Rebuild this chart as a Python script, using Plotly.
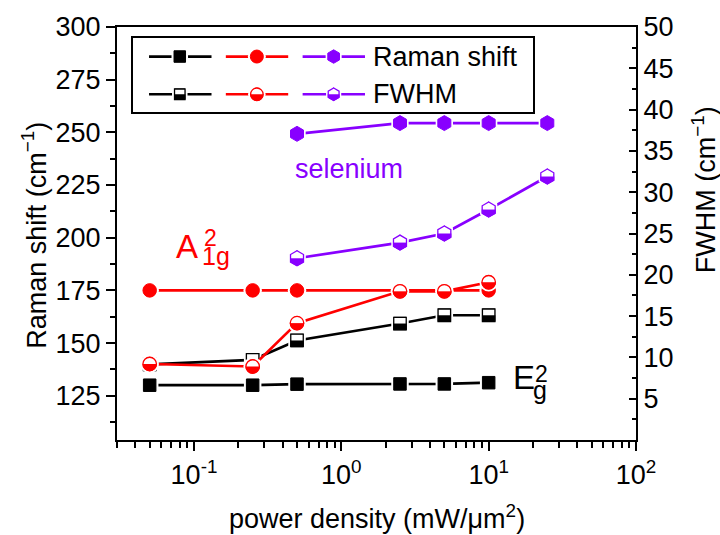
import math
import plotly.graph_objects as go

# ---------------- data ----------------
power_main = [0.05, 0.25, 0.5, 2.5, 5, 10]
power_se = [0.5, 2.5, 5, 10, 25]
raman_e2g = [130.0, 130.0, 130.5, 130.6, 130.6, 131.2]
raman_a1g = [175.0, 175.0, 175.0, 175.0, 175.0, 175.0]
raman_se = [249.3, 254.4, 254.4, 254.4, 254.4]
fwhm_e2g = [9.15, 9.7, 12.05, 14.1, 15.1, 15.1]
fwhm_a1g = [9.2, 8.9, 14.15, 18.0, 18.0, 19.1]
fwhm_se = [22.0, 23.9, 25.0, 27.9, 31.9]

x_tick_vals = [0.1, 1, 10, 100]
x_tick_text = ["10<sup>-1</sup>", "10<sup>0</sup>", "10<sup>1</sup>", "10<sup>2</sup>"]
left_tick_vals = [125, 150, 175, 200, 225, 250, 275, 300]
left_minor_vals = [112.5, 137.5, 162.5, 187.5, 212.5, 237.5, 262.5, 287.5]
right_tick_vals = [5, 10, 15, 20, 25, 30, 35, 40, 45, 50]
right_minor_vals = [2.5, 7.5, 12.5, 17.5, 22.5, 27.5, 32.5, 37.5, 42.5, 47.5]
x_minor_vals = [m * 10 ** e for e in (-2, -1, 0, 1) for m in range(2, 10) if m * 10 ** e >= 0.03]

BLACK = "#000000"
RED = "#FF0000"
PURPLE = "#8800FF"
FONT = "Liberation Sans, Arial, sans-serif"
FS = 27

# ---------------- layout geometry (pixels) ----------------
W, H = 720, 535
PL, PR, PT, PB = 117.3, 635.7, 20.7, 440.0


def pxx(x):
    return (x - PL) / (PR - PL)


def pxy(y):
    return (PB - y) / (PB - PT)


fig = go.Figure()


def add_series(x, y, color, symbol, size, half, xaxis="x", yaxis="y",
               line_x=None, line_y=None, lw=2.7):
    lx = x if line_x is None else line_x
    ly = y if line_y is None else line_y
    common = dict(xaxis=xaxis, yaxis=yaxis, showlegend=False, hoverinfo="skip")
    fig.add_trace(go.Scatter(x=lx, y=ly, mode="lines",
                             line=dict(color=color, width=lw), **common))
    fig.add_trace(go.Scatter(x=x, y=y, mode="markers",
                             marker=dict(symbol=symbol, size=size + 5, color="white",
                                         line=dict(width=0)), **common))
    fig.add_trace(go.Scatter(x=x, y=y, mode="markers",
                             marker=dict(symbol=symbol, size=size, color=color,
                                         line=dict(color=color, width=1)), **common))
    if half:
        fig.add_trace(go.Scatter(x=x, y=y, mode="markers",
                                 marker=dict(symbol="line-ew", size=size * 0.8, angle=180,
                                             standoff=size / 4,
                                             line=dict(color="white", width=size / 2)),
                                 **common))
        fig.add_trace(go.Scatter(x=x, y=y, mode="markers",
                                 marker=dict(symbol=symbol, size=size,
                                             color="rgba(0,0,0,0)",
                                             line=dict(color=color, width=1.3)),
                                 **common))


# Raman shift (left axis)
add_series(power_main, raman_e2g, BLACK, "square", 12.5, False)
add_series(power_main, raman_a1g, RED, "circle", 13.5, False)
add_series(power_se, raman_se, PURPLE, "hexagon", 15, False)
# FWHM (right axis)
add_series(power_main, fwhm_e2g, BLACK, "square", 12.5, True, yaxis="y2")
add_series(power_main, fwhm_a1g, RED, "circle", 13.5, True, yaxis="y2")
add_series(power_se, fwhm_se, PURPLE, "hexagon", 15, True, yaxis="y2")

# ---------------- custom legend (hidden axes x2 / y3, pixel units) ----------------
LX0, LX1, LY0, LY1 = 133.3, 533.3, 31.7, 107.3
row_y = [50.7, 89.0]
samples = [(149.3, 180.0, 211.7, BLACK, "square", 11.5, 10.5),
           (226.0, 257.0, 288.3, RED, "circle", 13.0, 12.5),
           (302.7, 333.7, 365.0, PURPLE, "hexagon", 13.5, 12.5)]
for r, ry in enumerate(row_y):
    for (a, m, b, col, sym, s_full, s_half) in samples:
        add_series([m], [ry], col, sym, s_full if r == 0 else s_half, r == 1,
                   xaxis="x2", yaxis="y3", line_x=[a, b], line_y=[ry, ry])

legend_names = ["Raman shift", "FWHM"]
annotations = []
for name, ry in zip(legend_names, row_y):
    annotations.append(dict(x=372.0, y=ry, xref="x2", yref="y3", text=name,
                            showarrow=False, xanchor="left", yanchor="middle",
                            borderpad=0,
                            font=dict(size=FS, color="black", family=FONT)))


def label(text, x, y, size, color, xanchor="left", angle=0):
    annotations.append(dict(x=pxx(x), y=pxy(y), xref="paper", yref="paper", text=text,
                            showarrow=False, xanchor=xanchor, yanchor="middle",
                            textangle=angle, borderpad=0,
                            font=dict(size=size, color=color, family=FONT)))


label("selenium", 294, 165, FS, PURPLE)
label("A", 175, 243.6, 33, RED)
label("1g", 201, 253.4, 25, RED)
label("2", 203, 234.5, 23, RED)
label("E", 512, 376.5, 33, BLACK)
label("g", 532, 389.5, 25, BLACK)
label("2", 533.5, 372.5, 23, BLACK)
label("Raman shift (cm<sup>−1</sup>)", 35, 232, FS, BLACK, xanchor="center", angle=-90)
label("FWHM (cm<sup>−1</sup>)", 703, 186, FS, BLACK, xanchor="center", angle=-90)
label("power density (mW/μm<sup>2</sup>)", 377, 518, FS, BLACK, xanchor="center")

axis_common = dict(showgrid=False, zeroline=False, showline=True, linecolor="black",
                   linewidth=2, tickcolor="black", tickwidth=1.5,
                   tickfont=dict(size=FS, color="black", family=FONT))

fig.update_layout(
    width=W, height=H, autosize=False,
    margin=dict(l=PL, r=W - PR, t=PT, b=H - PB, pad=0),
    paper_bgcolor="white", plot_bgcolor="white",
    showlegend=False,
    font=dict(family=FONT, size=FS, color="black"),
    xaxis=dict(type="log", range=[math.log10(0.03), 2], tickmode="array",
               tickvals=x_tick_vals, ticktext=x_tick_text, ticks="outside", ticklen=9,
               mirror=True, ticklabelstandoff=1,
               minor=dict(tickmode="array", tickvals=x_minor_vals, ticks="outside",
                          ticklen=5.5, tickwidth=1.5, tickcolor="black", showgrid=False),
               **axis_common),
    yaxis=dict(range=[104, 300], tickmode="array", tickvals=left_tick_vals,
               ticks="outside", ticklen=9,
               minor=dict(tickmode="array", tickvals=left_minor_vals, ticks="outside",
                          ticklen=5.5, tickwidth=1.5, tickcolor="black", showgrid=False),
               **axis_common),
    yaxis2=dict(range=[0, 50], overlaying="y", side="right", anchor="x",
                tickmode="array", tickvals=right_tick_vals, ticks="inside", ticklen=7,
                minor=dict(tickmode="array", tickvals=right_minor_vals, ticks="inside",
                           ticklen=4.5, tickwidth=1.5, tickcolor="black", showgrid=False),
                **axis_common),
    xaxis2=dict(domain=[pxx(LX0), pxx(LX1)], anchor="y3", range=[LX0, LX1],
                showgrid=False, zeroline=False, showline=True, mirror=True,
                linecolor="black", linewidth=1.5, ticks="", showticklabels=False),
    yaxis3=dict(domain=[pxy(LY1), pxy(LY0)], anchor="x2", range=[LY1, LY0],
                showgrid=False, zeroline=False, showline=True, mirror=True,
                linecolor="black", linewidth=1.5, ticks="", showticklabels=False),
    annotations=annotations,
)

fig.write_html("out.html")
